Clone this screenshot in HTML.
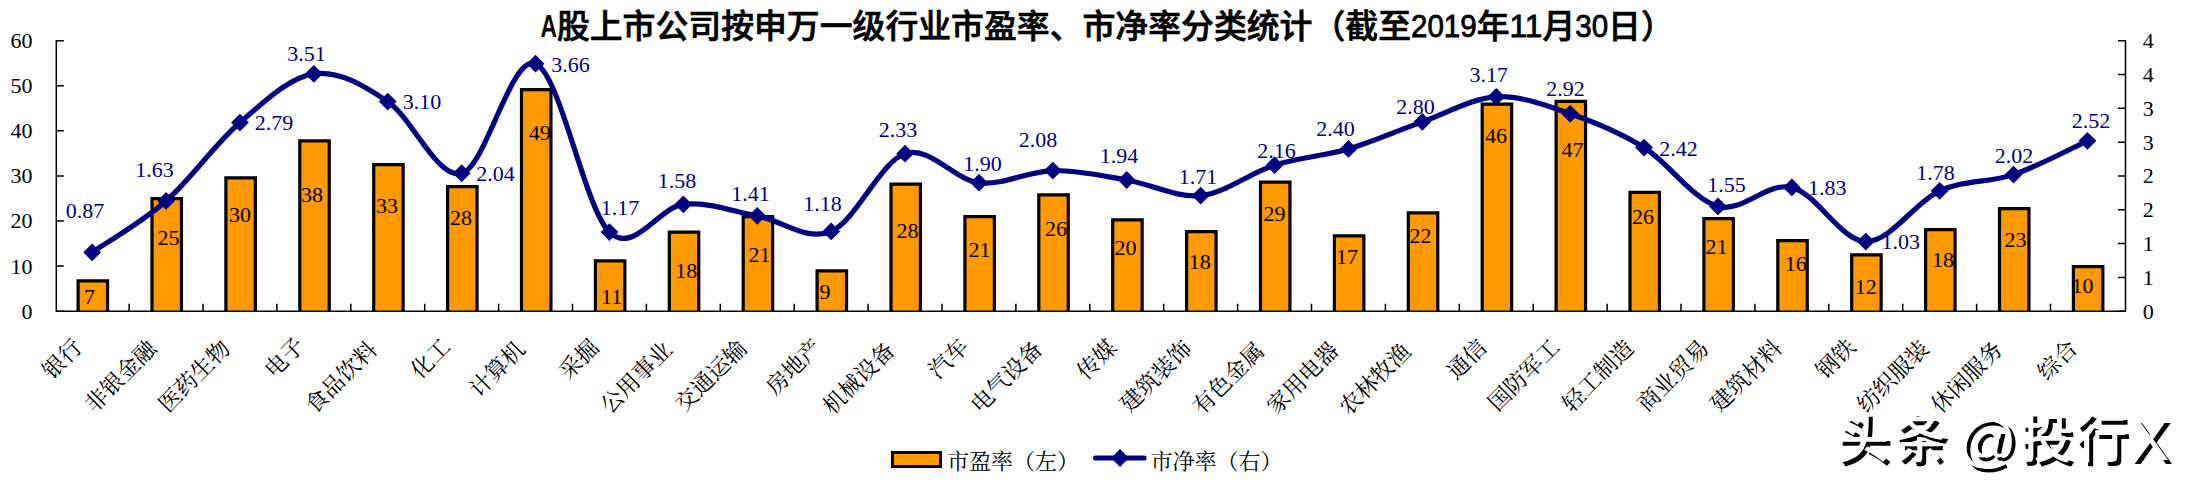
<!DOCTYPE html>
<html lang="zh-CN"><head><meta charset="utf-8"><title>A股上市公司按申万一级行业市盈率、市净率分类统计</title>
<style>html,body{margin:0;padding:0;background:#fff}body{width:2188px;height:487px;overflow:hidden}svg{display:block}</style></head>
<body>
<svg width="2188" height="487" viewBox="0 0 2188 487">
<rect width="2188" height="487" fill="#fff"/>
<rect x="77.50" y="280.25" width="30.65" height="30.95" fill="#FF9900"/>
<path d="M78.10 311.20V280.85H107.55V311.20" fill="none" stroke="#000" stroke-width="3.2"/>
<rect x="151.40" y="198.00" width="30.65" height="113.20" fill="#FF9900"/>
<path d="M152.00 311.20V198.60H181.45V311.20" fill="none" stroke="#000" stroke-width="3.2"/>
<rect x="225.30" y="177.25" width="30.65" height="133.95" fill="#FF9900"/>
<path d="M225.90 311.20V177.85H255.35V311.20" fill="none" stroke="#000" stroke-width="3.2"/>
<rect x="299.20" y="140.25" width="30.65" height="170.95" fill="#FF9900"/>
<path d="M299.80 311.20V140.85H329.25V311.20" fill="none" stroke="#000" stroke-width="3.2"/>
<rect x="373.10" y="164.00" width="30.65" height="147.20" fill="#FF9900"/>
<path d="M373.70 311.20V164.60H403.15V311.20" fill="none" stroke="#000" stroke-width="3.2"/>
<rect x="447.00" y="186.00" width="30.65" height="125.20" fill="#FF9900"/>
<path d="M447.60 311.20V186.60H477.05V311.20" fill="none" stroke="#000" stroke-width="3.2"/>
<rect x="520.90" y="89.00" width="30.65" height="222.20" fill="#FF9900"/>
<path d="M521.50 311.20V89.60H550.95V311.20" fill="none" stroke="#000" stroke-width="3.2"/>
<rect x="594.80" y="260.25" width="30.65" height="50.95" fill="#FF9900"/>
<path d="M595.40 311.20V260.85H624.85V311.20" fill="none" stroke="#000" stroke-width="3.2"/>
<rect x="668.70" y="231.50" width="30.65" height="79.70" fill="#FF9900"/>
<path d="M669.30 311.20V232.10H698.75V311.20" fill="none" stroke="#000" stroke-width="3.2"/>
<rect x="742.60" y="216.00" width="30.65" height="95.20" fill="#FF9900"/>
<path d="M743.20 311.20V216.60H772.65V311.20" fill="none" stroke="#000" stroke-width="3.2"/>
<rect x="816.50" y="270.25" width="30.65" height="40.95" fill="#FF9900"/>
<path d="M817.10 311.20V270.85H846.55V311.20" fill="none" stroke="#000" stroke-width="3.2"/>
<rect x="890.40" y="183.50" width="30.65" height="127.70" fill="#FF9900"/>
<path d="M891.00 311.20V184.10H920.45V311.20" fill="none" stroke="#000" stroke-width="3.2"/>
<rect x="964.30" y="216.00" width="30.65" height="95.20" fill="#FF9900"/>
<path d="M964.90 311.20V216.60H994.35V311.20" fill="none" stroke="#000" stroke-width="3.2"/>
<rect x="1038.20" y="194.25" width="30.65" height="116.95" fill="#FF9900"/>
<path d="M1038.80 311.20V194.85H1068.25V311.20" fill="none" stroke="#000" stroke-width="3.2"/>
<rect x="1112.10" y="219.25" width="30.65" height="91.95" fill="#FF9900"/>
<path d="M1112.70 311.20V219.85H1142.15V311.20" fill="none" stroke="#000" stroke-width="3.2"/>
<rect x="1186.00" y="231.00" width="30.65" height="80.20" fill="#FF9900"/>
<path d="M1186.60 311.20V231.60H1216.05V311.20" fill="none" stroke="#000" stroke-width="3.2"/>
<rect x="1259.90" y="181.50" width="30.65" height="129.70" fill="#FF9900"/>
<path d="M1260.50 311.20V182.10H1289.95V311.20" fill="none" stroke="#000" stroke-width="3.2"/>
<rect x="1333.80" y="235.25" width="30.65" height="75.95" fill="#FF9900"/>
<path d="M1334.40 311.20V235.85H1363.85V311.20" fill="none" stroke="#000" stroke-width="3.2"/>
<rect x="1407.70" y="212.25" width="30.65" height="98.95" fill="#FF9900"/>
<path d="M1408.30 311.20V212.85H1437.75V311.20" fill="none" stroke="#000" stroke-width="3.2"/>
<rect x="1481.60" y="103.50" width="30.65" height="207.70" fill="#FF9900"/>
<path d="M1482.20 311.20V104.10H1511.65V311.20" fill="none" stroke="#000" stroke-width="3.2"/>
<rect x="1555.50" y="100.75" width="30.65" height="210.45" fill="#FF9900"/>
<path d="M1556.10 311.20V101.35H1585.55V311.20" fill="none" stroke="#000" stroke-width="3.2"/>
<rect x="1629.40" y="191.75" width="30.65" height="119.45" fill="#FF9900"/>
<path d="M1630.00 311.20V192.35H1659.45V311.20" fill="none" stroke="#000" stroke-width="3.2"/>
<rect x="1703.30" y="218.00" width="30.65" height="93.20" fill="#FF9900"/>
<path d="M1703.90 311.20V218.60H1733.35V311.20" fill="none" stroke="#000" stroke-width="3.2"/>
<rect x="1777.20" y="240.00" width="30.65" height="71.20" fill="#FF9900"/>
<path d="M1777.80 311.20V240.60H1807.25V311.20" fill="none" stroke="#000" stroke-width="3.2"/>
<rect x="1851.10" y="254.25" width="30.65" height="56.95" fill="#FF9900"/>
<path d="M1851.70 311.20V254.85H1881.15V311.20" fill="none" stroke="#000" stroke-width="3.2"/>
<rect x="1925.00" y="229.00" width="30.65" height="82.20" fill="#FF9900"/>
<path d="M1925.60 311.20V229.60H1955.05V311.20" fill="none" stroke="#000" stroke-width="3.2"/>
<rect x="1998.90" y="208.00" width="30.65" height="103.20" fill="#FF9900"/>
<path d="M1999.50 311.20V208.60H2028.95V311.20" fill="none" stroke="#000" stroke-width="3.2"/>
<rect x="2072.80" y="266.00" width="30.65" height="45.20" fill="#FF9900"/>
<path d="M2073.40 311.20V266.60H2102.85V311.20" fill="none" stroke="#000" stroke-width="3.2"/>
<g stroke="#000" stroke-width="1.5" fill="none">
<path d="M56.3 39.95V311.2M2125.5 39.95V311.2M55.55 311.2H2126.25"/>
<path d="M56.3 311.20h7.5M56.3 266.12h7.5M56.3 221.03h7.5M56.3 175.95h7.5M56.3 130.87h7.5M56.3 85.78h7.5M56.3 40.70h7.5M2125.5 311.20h-7.5M2125.5 277.39h-7.5M2125.5 243.57h-7.5M2125.5 209.76h-7.5M2125.5 175.95h-7.5M2125.5 142.14h-7.5M2125.5 108.32h-7.5M2125.5 74.51h-7.5M2125.5 40.70h-7.5M129.10 311.2v-7.5M203.00 311.2v-7.5M276.90 311.2v-7.5M350.80 311.2v-7.5M424.70 311.2v-7.5M498.60 311.2v-7.5M572.50 311.2v-7.5M646.40 311.2v-7.5M720.30 311.2v-7.5M794.20 311.2v-7.5M868.10 311.2v-7.5M942.00 311.2v-7.5M1015.90 311.2v-7.5M1089.80 311.2v-7.5M1163.70 311.2v-7.5M1237.60 311.2v-7.5M1311.50 311.2v-7.5M1385.40 311.2v-7.5M1459.30 311.2v-7.5M1533.20 311.2v-7.5M1607.10 311.2v-7.5M1681.00 311.2v-7.5M1754.90 311.2v-7.5M1828.80 311.2v-7.5M1902.70 311.2v-7.5M1976.60 311.2v-7.5M2050.50 311.2v-7.5"/></g>
<g font-family='"Liberation Serif","Noto Serif CJK SC",serif' font-size="22" fill="#000">
<text x="32.6" y="318.60" text-anchor="end">0</text>
<text x="32.6" y="273.52" text-anchor="end">10</text>
<text x="32.6" y="228.43" text-anchor="end">20</text>
<text x="32.6" y="183.35" text-anchor="end">30</text>
<text x="32.6" y="138.27" text-anchor="end">40</text>
<text x="32.6" y="93.18" text-anchor="end">50</text>
<text x="32.6" y="48.10" text-anchor="end">60</text>
<text x="2142.8" y="318.60">0</text>
<text x="2142.8" y="284.79">1</text>
<text x="2142.8" y="250.97">1</text>
<text x="2142.8" y="217.16">2</text>
<text x="2142.8" y="183.35">2</text>
<text x="2142.8" y="149.54">3</text>
<text x="2142.8" y="115.72">3</text>
<text x="2142.8" y="81.91">4</text>
<text x="2142.8" y="48.10">4</text>
<text x="89.4" y="304.3" text-anchor="middle">7</text>
<text x="168.6" y="245.3" text-anchor="middle">25</text>
<text x="240.0" y="221.5" text-anchor="middle">30</text>
<text x="311.9" y="202.4" text-anchor="middle">38</text>
<text x="387.1" y="213.0" text-anchor="middle">33</text>
<text x="461.0" y="225.2" text-anchor="middle">28</text>
<text x="539.8" y="140.4" text-anchor="middle">49</text>
<text x="611.6" y="304.3" text-anchor="middle">11</text>
<text x="686.2" y="278.0" text-anchor="middle">18</text>
<text x="759.4" y="262.1" text-anchor="middle">21</text>
<text x="825.0" y="299.3" text-anchor="middle">9</text>
<text x="907.5" y="238.0" text-anchor="middle">28</text>
<text x="979.4" y="256.8" text-anchor="middle">21</text>
<text x="1056.0" y="236.3" text-anchor="middle">26</text>
<text x="1125.4" y="254.9" text-anchor="middle">20</text>
<text x="1199.8" y="269.0" text-anchor="middle">18</text>
<text x="1274.4" y="221.2" text-anchor="middle">29</text>
<text x="1346.9" y="264.0" text-anchor="middle">17</text>
<text x="1420.6" y="243.3" text-anchor="middle">22</text>
<text x="1496.0" y="142.7" text-anchor="middle">46</text>
<text x="1572.5" y="157.4" text-anchor="middle">47</text>
<text x="1643.1" y="224.0" text-anchor="middle">26</text>
<text x="1716.4" y="254.0" text-anchor="middle">21</text>
<text x="1795.8" y="270.9" text-anchor="middle">16</text>
<text x="1865.8" y="293.6" text-anchor="middle">12</text>
<text x="1943.0" y="267.1" text-anchor="middle">18</text>
<text x="2015.4" y="246.5" text-anchor="middle">23</text>
<text x="2082.6" y="293.4" text-anchor="middle">10</text>
</g>
<path d="M92.15 252.37C104.47 243.80 141.42 222.61 166.05 200.97C190.68 179.33 215.32 143.72 239.95 122.53C264.58 101.34 289.22 77.33 313.85 73.84C338.48 70.34 363.12 84.99 387.75 101.56C412.38 118.13 437.02 179.56 461.65 173.24C486.28 166.93 510.92 53.89 535.55 63.69C560.18 73.50 584.82 208.64 609.45 232.08C634.08 255.52 658.72 207.06 683.35 204.35C707.98 201.65 732.62 211.34 757.25 215.85C781.88 220.36 806.52 241.77 831.15 231.40C855.78 221.03 880.42 161.75 905.05 153.63C929.68 145.52 954.32 179.89 978.95 182.71C1003.58 185.53 1028.22 170.99 1052.85 170.54C1077.48 170.09 1102.12 175.84 1126.75 180.01C1151.38 184.18 1176.02 198.04 1200.65 195.56C1225.28 193.08 1249.92 172.91 1274.55 165.13C1299.18 157.35 1323.82 156.11 1348.45 148.90C1373.08 141.69 1397.72 130.53 1422.35 121.85C1446.98 113.17 1471.62 98.18 1496.25 96.83C1520.88 95.48 1545.52 105.28 1570.15 113.73C1594.78 122.19 1619.42 132.11 1644.05 147.55C1668.68 162.99 1693.32 199.73 1717.95 206.38C1742.58 213.03 1767.22 181.59 1791.85 187.45C1816.48 193.31 1841.12 240.98 1865.75 241.55C1890.38 242.11 1915.02 201.99 1939.65 190.83C1964.28 179.67 1988.92 182.94 2013.55 174.60C2038.18 166.26 2075.13 146.42 2087.45 140.78" fill="none" stroke="#000080" stroke-width="5.2" stroke-linejoin="round" stroke-linecap="round"/>
<path d="M83.25 252.37L92.15 243.47L101.05 252.37L92.15 261.27ZM157.15 200.97L166.05 192.07L174.95 200.97L166.05 209.87ZM231.05 122.53L239.95 113.63L248.85 122.53L239.95 131.43ZM304.95 73.84L313.85 64.94L322.75 73.84L313.85 82.74ZM378.85 101.56L387.75 92.66L396.65 101.56L387.75 110.46ZM452.75 173.24L461.65 164.34L470.55 173.24L461.65 182.14ZM526.65 63.69L535.55 54.79L544.45 63.69L535.55 72.59ZM600.55 232.08L609.45 223.18L618.35 232.08L609.45 240.98ZM674.45 204.35L683.35 195.45L692.25 204.35L683.35 213.25ZM748.35 215.85L757.25 206.95L766.15 215.85L757.25 224.75ZM822.25 231.40L831.15 222.50L840.05 231.40L831.15 240.30ZM896.15 153.63L905.05 144.73L913.95 153.63L905.05 162.53ZM970.05 182.71L978.95 173.81L987.85 182.71L978.95 191.61ZM1043.95 170.54L1052.85 161.64L1061.75 170.54L1052.85 179.44ZM1117.85 180.01L1126.75 171.11L1135.65 180.01L1126.75 188.91ZM1191.75 195.56L1200.65 186.66L1209.55 195.56L1200.65 204.46ZM1265.65 165.13L1274.55 156.23L1283.45 165.13L1274.55 174.03ZM1339.55 148.90L1348.45 140.00L1357.35 148.90L1348.45 157.80ZM1413.45 121.85L1422.35 112.95L1431.25 121.85L1422.35 130.75ZM1487.35 96.83L1496.25 87.93L1505.15 96.83L1496.25 105.73ZM1561.25 113.73L1570.15 104.83L1579.05 113.73L1570.15 122.63ZM1635.15 147.55L1644.05 138.65L1652.95 147.55L1644.05 156.45ZM1709.05 206.38L1717.95 197.48L1726.85 206.38L1717.95 215.28ZM1782.95 187.45L1791.85 178.55L1800.75 187.45L1791.85 196.35ZM1856.85 241.55L1865.75 232.65L1874.65 241.55L1865.75 250.45ZM1930.75 190.83L1939.65 181.93L1948.55 190.83L1939.65 199.73ZM2004.65 174.60L2013.55 165.70L2022.45 174.60L2013.55 183.50ZM2078.55 140.78L2087.45 131.88L2096.35 140.78L2087.45 149.69Z" fill="#000080"/>
<g font-family='"Liberation Serif","Noto Serif CJK SC",serif' font-size="22" fill="#000080">
<text x="85.0" y="218.0" text-anchor="middle">0.87</text>
<text x="154.4" y="177.4" text-anchor="middle">1.63</text>
<text x="274.0" y="130.3" text-anchor="middle">2.79</text>
<text x="306.5" y="61.1" text-anchor="middle">3.51</text>
<text x="422.0" y="108.9" text-anchor="middle">3.10</text>
<text x="495.6" y="181.2" text-anchor="middle">2.04</text>
<text x="570.4" y="71.5" text-anchor="middle">3.66</text>
<text x="620.0" y="215.0" text-anchor="middle">1.17</text>
<text x="677.1" y="187.8" text-anchor="middle">1.58</text>
<text x="750.6" y="201.3" text-anchor="middle">1.41</text>
<text x="822.4" y="210.5" text-anchor="middle">1.18</text>
<text x="897.9" y="136.8" text-anchor="middle">2.33</text>
<text x="982.5" y="170.5" text-anchor="middle">1.90</text>
<text x="1038.1" y="147.3" text-anchor="middle">2.08</text>
<text x="1119.1" y="163.0" text-anchor="middle">1.94</text>
<text x="1198.0" y="183.5" text-anchor="middle">1.71</text>
<text x="1276.6" y="158.0" text-anchor="middle">2.16</text>
<text x="1335.4" y="135.8" text-anchor="middle">2.40</text>
<text x="1415.4" y="114.0" text-anchor="middle">2.80</text>
<text x="1488.8" y="82.4" text-anchor="middle">3.17</text>
<text x="1565.4" y="95.5" text-anchor="middle">2.92</text>
<text x="1678.5" y="155.5" text-anchor="middle">2.42</text>
<text x="1726.5" y="191.8" text-anchor="middle">1.55</text>
<text x="1827.2" y="195.0" text-anchor="middle">1.83</text>
<text x="1900.8" y="248.9" text-anchor="middle">1.03</text>
<text x="1935.4" y="179.5" text-anchor="middle">1.78</text>
<text x="2014.1" y="163.0" text-anchor="middle">2.02</text>
<text x="2090.9" y="128.0" text-anchor="middle">2.52</text>
</g>
<g font-family='"Liberation Serif","Noto Serif CJK SC",serif' font-size="22.5" font-weight="400" fill="#000" text-anchor="end">
<text transform="translate(83.6 348.6) rotate(-45)">银行</text>
<text transform="translate(157.8 350.0) rotate(-45)">非银金融</text>
<text transform="translate(231.6 349.8) rotate(-45)">医药生物</text>
<text transform="translate(305.9 347.2) rotate(-45)">电子</text>
<text transform="translate(378.4 351.2) rotate(-45)">食品饮料</text>
<text transform="translate(451.8 348.2) rotate(-45)">化工</text>
<text transform="translate(526.4 350.6) rotate(-45)">计算机</text>
<text transform="translate(600.4 348.8) rotate(-45)">采掘</text>
<text transform="translate(673.6 351.0) rotate(-45)">公用事业</text>
<text transform="translate(748.1 349.6) rotate(-45)">交通运输</text>
<text transform="translate(823.1 348.5) rotate(-45)">房地产</text>
<text transform="translate(896.1 351.9) rotate(-45)">机械设备</text>
<text transform="translate(969.9 348.2) rotate(-45)">汽车</text>
<text transform="translate(1043.8 350.6) rotate(-45)">电气设备</text>
<text transform="translate(1118.2 349.1) rotate(-45)">传媒</text>
<text transform="translate(1193.2 349.8) rotate(-45)">建筑装饰</text>
<text transform="translate(1265.6 352.0) rotate(-45)">有色金属</text>
<text transform="translate(1339.9 351.8) rotate(-45)">家用电器</text>
<text transform="translate(1412.2 352.8) rotate(-45)">农林牧渔</text>
<text transform="translate(1488.1 348.9) rotate(-45)">通信</text>
<text transform="translate(1561.1 348.6) rotate(-45)">国防军工</text>
<text transform="translate(1635.1 349.5) rotate(-45)">轻工制造</text>
<text transform="translate(1710.5 349.4) rotate(-45)">商业贸易</text>
<text transform="translate(1783.5 349.6) rotate(-45)">建筑材料</text>
<text transform="translate(1857.1 348.5) rotate(-45)">钢铁</text>
<text transform="translate(1930.1 350.2) rotate(-45)">纺织服装</text>
<text transform="translate(2004.2 350.9) rotate(-45)">休闲服务</text>
<text transform="translate(2078.9 349.6) rotate(-45)">综合</text>
</g>
<rect x="892.5" y="452.5" width="48" height="14" fill="#FF9900" stroke="#000" stroke-width="3"/>
<path d="M1095.5 458H1144" stroke="#000080" stroke-width="5.2" stroke-linecap="round"/>
<path d="M1111.1 458L1120 449.1L1128.9 458L1120 466.9Z" fill="#000080"/>
<g font-family='"Liberation Serif","Noto Serif CJK SC",serif' font-size="22" font-weight="400" fill="#000">
<text x="947" y="468.5" letter-spacing="0">市盈率（左）</text>
<text x="1150.5" y="468.5" letter-spacing="0">市净率（右）</text>
</g>
<text x="540.50" textLength="16.43" font-family='"Liberation Sans","Noto Sans CJK SC",sans-serif' fill="#000" lengthAdjust="spacingAndGlyphs" font-size="32" y="37.3" font-weight="700">A</text>
<text x="556.92" textLength="854.10" font-family='"Liberation Sans","Noto Sans CJK SC",sans-serif' fill="#000" lengthAdjust="spacingAndGlyphs" font-size="33" y="37.9" font-weight="500" stroke="#000" stroke-width="0.7">股上市公司按申万一级行业市盈率、市净率分类统计（截至</text>
<text x="1411.03" textLength="65.70" font-family='"Liberation Sans","Noto Sans CJK SC",sans-serif' fill="#000" lengthAdjust="spacingAndGlyphs" font-size="32" y="37.3" font-weight="400" stroke="#000" stroke-width="0.8">2019</text>
<text x="1476.72" textLength="32.85" font-family='"Liberation Sans","Noto Sans CJK SC",sans-serif' fill="#000" lengthAdjust="spacingAndGlyphs" font-size="33" y="37.9" font-weight="500" stroke="#000" stroke-width="0.7">年</text>
<text x="1509.58" textLength="32.85" font-family='"Liberation Sans","Noto Sans CJK SC",sans-serif' fill="#000" lengthAdjust="spacingAndGlyphs" font-size="32" y="37.3" font-weight="400" stroke="#000" stroke-width="0.8">11</text>
<text x="1542.43" textLength="32.85" font-family='"Liberation Sans","Noto Sans CJK SC",sans-serif' fill="#000" lengthAdjust="spacingAndGlyphs" font-size="33" y="37.9" font-weight="500" stroke="#000" stroke-width="0.7">月</text>
<text x="1575.28" textLength="32.85" font-family='"Liberation Sans","Noto Sans CJK SC",sans-serif' fill="#000" lengthAdjust="spacingAndGlyphs" font-size="32" y="37.3" font-weight="400" stroke="#000" stroke-width="0.8">30</text>
<text x="1608.12" textLength="65.70" font-family='"Liberation Sans","Noto Sans CJK SC",sans-serif' fill="#000" lengthAdjust="spacingAndGlyphs" font-size="33" y="37.9" font-weight="500" stroke="#000" stroke-width="0.7">日）</text>
<text y="461.5" fill="#000" text-anchor="middle" font-family='"Liberation Sans","Noto Sans CJK SC",sans-serif' font-weight="500" font-size="53"><tspan x="1866.6">头</tspan><tspan x="1923.75">条</tspan><tspan x="1945.0"> </tspan><tspan x="1991.3" font-size="58" font-weight="400" dy="2.5">@</tspan><tspan x="2049.7" dy="-2.5">投</tspan><tspan x="2104.75">行</tspan><tspan x="2153.25" font-size="60" font-weight="400" dy="2.5">X</tspan></text>
<text y="457.5" fill="#fff" text-anchor="middle" font-family='"Liberation Sans","Noto Sans CJK SC",sans-serif' font-weight="500" font-size="53"><tspan x="1862.6">头</tspan><tspan x="1919.75">条</tspan><tspan x="1941.0"> </tspan><tspan x="1987.3" font-size="58" font-weight="400" dy="2.5">@</tspan><tspan x="2045.7" dy="-2.5">投</tspan><tspan x="2100.75">行</tspan><tspan x="2149.25" font-size="60" font-weight="400" dy="2.5">X</tspan></text>
</svg>
</body></html>
